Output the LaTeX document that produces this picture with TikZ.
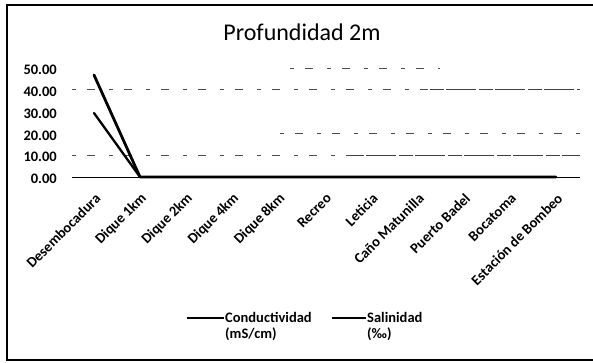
\documentclass[tikz,border=0pt]{standalone}
\usepackage{fontspec}
\setmainfont{Carlito}
\begin{document}
\begin{tikzpicture}[x=1pt,y=-1pt,
  lab/.style={font=\bfseries\fontsize{14.5}{16}\selectfont, inner sep=0pt},
  gridln/.style={black!70, line width=0.7pt, dash pattern=on 4pt off 11pt on 8pt off 14pt},
  gridsolid/.style={black!75, line width=0.8pt, dash pattern=on 14pt off 2pt on 30pt off 3pt},
  series/.style={line width=2.8pt, line join=round, line cap=round},
  legline/.style={line width=2.2pt}]
\useasboundingbox (0,0) rectangle (593,363);
\begin{scope}
  \clip (0,0) rectangle (593,363);
  \draw[line width=2.2pt] (7,5) rectangle (620,360);
\end{scope}
\node[font=\fontsize{24}{28}\selectfont, anchor=base, inner sep=0pt] (title) at (302,41) {Profundidad 2m};
% y-axis labels
\foreach \v/\t in {0/0.00,10/10.00,20/20.00,30/30.00,40/40.00,50/50.00}
  \node[lab, anchor=east] (y\v) at (57,{179-2.18*\v}) {\t};
% gridline fragments
\coordinate (g10a) at (72,155.2);  \coordinate (g10b) at (580,155.2);
\coordinate (g20a) at (280,133.4); \coordinate (g20b) at (580,133.4);
\coordinate (g40a) at (72,89.8);   \coordinate (g40b) at (580,89.8);
\coordinate (g50a) at (290,68);    \coordinate (g50b) at (440,68);
\coordinate (g10m) at (350,155.2); \coordinate (g40m) at (430,89.8);
\draw[gridln] (g10a) -- (g10m);
\draw[gridsolid] (g10m) -- (g10b);
\draw[gridln] (g20a) -- (g20b);
\draw[gridln] (g40a) -- (g40m);
\draw[gridsolid] (g40m) -- (g40b);
\draw[gridln] (g50a) -- (g50b);
% axis
\coordinate (ax0) at (72,177); \coordinate (ax1) at (580,177);
\draw[line width=0.9pt] (ax0) -- (ax1);
% category labels
\foreach \i/\t in {0/Desembocadura,1/Dique 1km,2/Dique 2km,3/Dique 4km,4/Dique 8km,5/Recreo,6/Leticia,7/Caño Matunilla,8/Puerto Badel,9/Bocatoma,10/Estación de Bombeo}
  \node[lab, rotate=45, anchor=east] (x\i) at ({98+46.2*\i},196) {\t};
% data series
\coordinate (s0) at (94,75);
\coordinate (k0) at (94,113);
\coordinate (z1) at (140,177);
\coordinate (z10) at (556,177);
\draw[series] (s0) -- (z1) -- (z10);
\draw[series, line width=2.3pt] (k0) -- (z1);
% legend
\coordinate (l1a) at (187,318); \coordinate (l1b) at (224,318);
\coordinate (l2a) at (332,318); \coordinate (l2b) at (366,318);
\draw[legline] (l1a) -- (l1b);
\draw[legline, line width=2.6pt] (l2a) -- (l2b);
\node[lab, anchor=north west, align=left] (leg1) at (225,312) {Conductividad\\(mS/cm)};
\node[lab, anchor=north west, align=left] (leg2) at (367,312) {Salinidad\\(‰)};
\end{tikzpicture}
\end{document}
